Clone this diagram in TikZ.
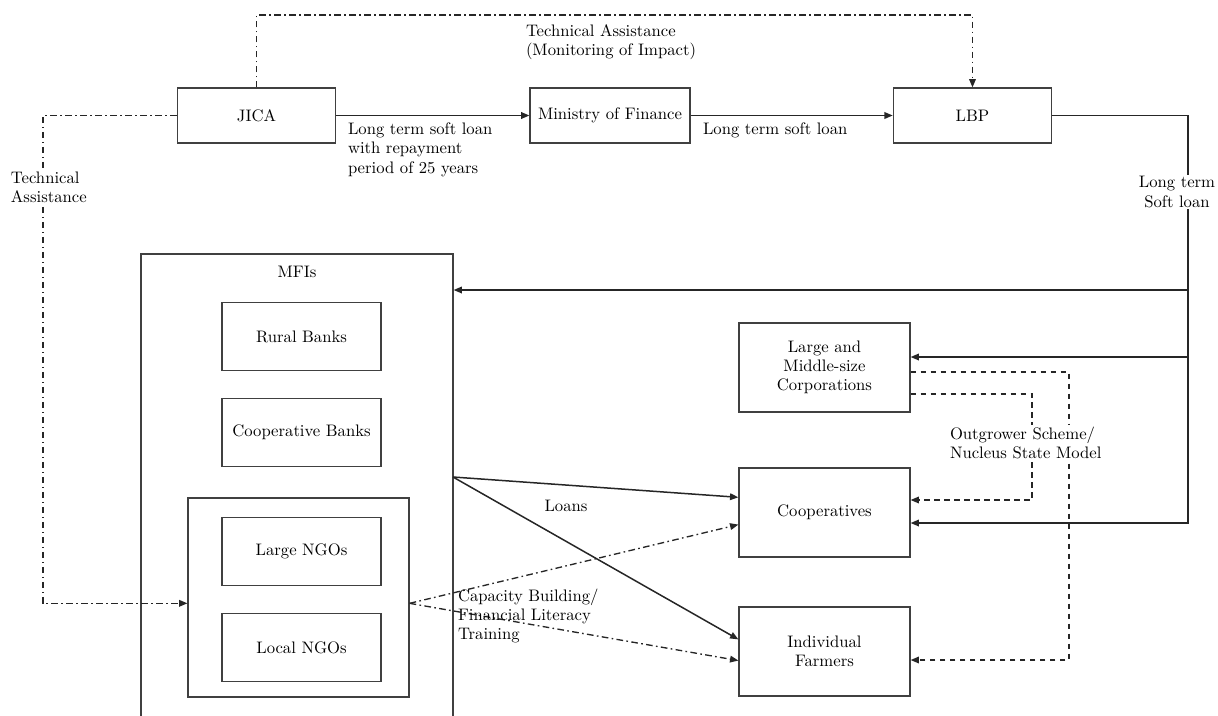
\documentclass[tikz,border=0pt]{standalone}
\usepackage{tikz}
\usetikzlibrary{arrows.meta}

\begin{document}
\begin{tikzpicture}[x=0.6pt,y=-0.6pt,font=\fontsize{10}{11.5}\selectfont,
	box/.style={rectangle,draw=black!75,line width=0.75pt,align=center},
	topbox/.style={box,minimum width=95pt,minimum height=33pt},
	inbox/.style={box,minimum width=95.4pt,minimum height=41pt},
	endbox/.style={box,minimum width=102.6pt,minimum height=53.4pt},
	loan/.style={draw=black!85,line width=0.9pt,-{Triangle[length=5pt,width=4pt]}},
	tadash/.style={draw=black!85,line width=0.8pt,dash pattern=on 4pt off 2pt on 1pt off 2pt,-{Triangle[length=5pt,width=4pt]}},
	osdash/.style={draw=black!85,line width=0.8pt,dash pattern=on 3.5pt off 2.5pt,-{Triangle[length=5pt,width=4pt]}},
	note/.style={align=left,inner sep=1pt}]
	\useasboundingbox (0,0) rectangle (1218,716);
	\clip (0,0) rectangle (1218,716);

	\node[topbox] (jica) at (256.5,115.5) {JICA};
	\node[topbox,minimum width=96pt,inner sep=0pt] (mof) at (610,115.5) {Ministry of Finance};
	\node[topbox] (lbp) at (972.5,115.5) {LBP};

	\node[box,minimum width=187.2pt,minimum height=280.8pt] (mfi) at (297,488) {};
	\node (mfititle) at (297,272) {MFIs};
	\node[inbox] (rural) at (301.5,336.5) {Rural Banks};
	\node[inbox,inner sep=0pt] (coopbank) at (301.5,432.5) {Cooperative Banks};
	\node[box,minimum width=132.6pt,minimum height=119.4pt] (ngo) at (298.5,597.5) {};
	\node[inbox] (largengo) at (301.5,551.5) {Large NGOs};
	\node[inbox] (localngo) at (301.5,647.5) {Local NGOs};

	\node[endbox] (corp) at (824.5,367.5) {Large and\\Middle-size\\Corporations};
	\node[endbox] (coop) at (824.5,512.5) {Cooperatives};
	\node[endbox] (farmer) at (824.5,651.5) {Individual\\Farmers};

	\draw[loan] (jica.east) -- (mof.west);
	\draw[loan] (mof.east) -- (lbp.west);
	\node[note,anchor=north west] at (346,121) {Long term soft loan\\with repayment\\period of 25 years};
	\node[note,anchor=north west] at (701,121) {Long term soft loan};

	% technical assistance
	\coordinate (tatop) at (0,15);
	\coordinate (taleft) at (43,0);
	\draw[tadash] (jica.north) |- (tatop -| lbp.north) -- (lbp.north);
	\draw[tadash] (jica.west) -| (taleft |- ngo.183) -- (ngo.183);
	\node[note,anchor=west] at (524,42) {Technical Assistance\\(Monitoring of Impact)};
	\node[note,fill=white,anchor=west] at (9,187) {Technical\\Assistance};

	% soft loan from LBP
	\coordinate (bus1) at (1188,290);
	\coordinate (bus2) at (1188,357);
	\coordinate (bus3) at (1188,523);
	\draw[loan] (lbp.east) -| (bus3) -- (bus3 -| coop.east);
	\draw[loan] (bus1) -- (bus1 -| mfi.east);
	\draw[loan] (bus2) -- (bus2 -| corp.east);
	\node[fill=white,align=center,inner sep=1pt] at (1177,192) {Long term\\Soft loan};

	% loans from MFIs
	\coordinate (mfiout) at (453,477);
	\draw[loan] (mfiout) -- (coop.170);
	\draw[loan] (mfiout) -- (farmer.172);
	\node at (566,506) {Loans};

	% outgrower
	\coordinate (os1) at (1032,500);
	\coordinate (os2) at (1069,660);
	\draw[osdash] (corp.343) -| (os1) -- (os1 -| coop.east);
	\draw[osdash] (corp.357) -| (os2) -- (os2 -| farmer.east);
	\node[note,fill=white,anchor=west] at (948,443) {Outgrower Scheme/\\Nucleus State Model};

	% capacity building
	\draw[tadash] (ngo.357) -- (coop.188);
	\draw[tadash] (ngo.357) -- (farmer.186);
	\node[note,anchor=west] at (456,616) {Capacity Building/\\Financial Literacy\\Training};
\end{tikzpicture}
\end{document}
